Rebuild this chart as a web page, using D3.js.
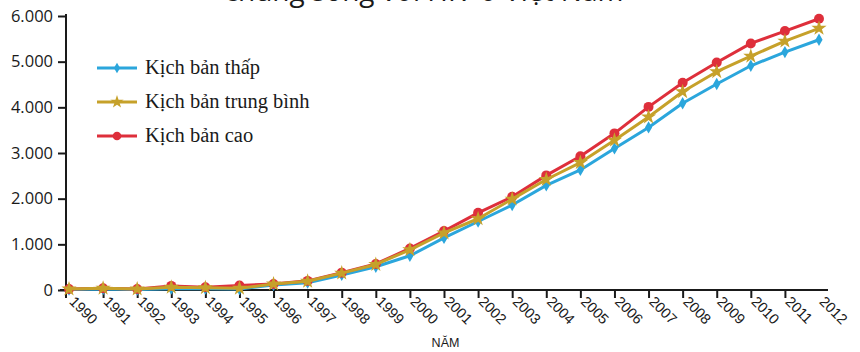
<!DOCTYPE html>
<html>
<head>
<meta charset="utf-8">
<script src="https://cdn.jsdelivr.net/npm/d3@7"></script>
<style>
  html, body { margin: 0; padding: 0; background: #fff; }
  svg { display: block; }
</style>
</head>
<body>
<svg id="chart" width="860" height="352"></svg>
<script>
// Years on the horizontal axis
const years = d3.range(1990, 2013);

// Estimated number of people living with HIV under three scenarios
const lowScenario = [10, 20, 10, 30, 30, 20, 110, 160, 330, 510, 750, 1140, 1500, 1860, 2290, 2630, 3100, 3560, 4090, 4510, 4910, 5210, 5480];
const midScenario = [20, 40, 20, 60, 50, 40, 130, 190, 370, 560, 880, 1250, 1560, 1990, 2420, 2790, 3280, 3790, 4340, 4780, 5120, 5450, 5730];
const highScenario = [20, 40, 20, 90, 60, 100, 130, 200, 380, 570, 910, 1290, 1690, 2040, 2510, 2930, 3430, 4010, 4540, 4980, 5400, 5670, 5940];

const seriesNames = ["Kịch bản thấp", "Kịch bản trung bình", "Kịch bản cao"];
const yTicks = [0, 1000, 2000, 3000, 4000, 5000, 6000];
const titleText = "chung sống với HIV ở Việt Nam";
const xAxisTitle = "NĂM";

const series = [
  { name: seriesNames[0], values: lowScenario, color: "#2ba6dc", symbol: d3.symbolDiamond, size: 44 },
  { name: seriesNames[1], values: midScenario, color: "#c6a12a", symbol: d3.symbolStar, size: 72 },
  { name: seriesNames[2], values: highScenario, color: "#de2f3b", symbol: d3.symbolCircle, size: 78 }
];

const svg = d3.select("#chart");
const ink = "#1a1a1a";

const x = d3.scaleLinear().domain([1990, 2012]).range([69, 819]);
const y = d3.scaleLinear().domain([0, 6000]).range([290, 16]);

const viLocale = d3.formatLocale({ decimal: ",", thousands: ".", grouping: [3], currency: ["", ""] });
const fmt = viLocale.format(",d");

// Title (its upper part runs past the top edge)
svg.append("text")
  .attr("x", 424).attr("y", 1)
  .attr("text-anchor", "middle")
  .attr("font-family", "'Open Sans', sans-serif")
  .attr("font-size", 28)
  .attr("fill", ink)
  .text(titleText);

// Y axis
const axisX = 66;
const yAxis = svg.append("g")
  .attr("transform", `translate(${axisX},0)`)
  .call(d3.axisLeft(y).tickValues(yTicks).tickSize(8).tickPadding(5).tickFormat(fmt));
yAxis.select(".domain").remove();
yAxis.selectAll(".tick line").attr("stroke", ink).attr("stroke-width", 2);
yAxis.selectAll(".tick text")
  .attr("font-family", "'Open Sans', sans-serif")
  .attr("font-size", 16.5)
  .attr("fill", ink);

svg.append("line")
  .attr("x1", axisX).attr("x2", axisX)
  .attr("y1", y(6000) - 2).attr("y2", y(0) + 8)
  .attr("stroke", ink).attr("stroke-width", 2);

// X axis
const xAxis = svg.append("g")
  .attr("transform", `translate(0,${y(0)})`)
  .call(d3.axisBottom(x).tickValues(years.slice(1, -1)).tickSize(8).tickFormat(""));
xAxis.select(".domain").remove();
xAxis.selectAll(".tick line").attr("stroke", ink).attr("stroke-width", 2);

svg.append("line")
  .attr("x1", axisX - 6).attr("x2", x(2012) + 9)
  .attr("y1", y(0)).attr("y2", y(0))
  .attr("stroke", ink).attr("stroke-width", 2);

svg.append("g").selectAll("text")
  .data(years)
  .join("text")
  .attr("transform", d => `translate(${x(d) + 7},${y(0) + 5}) rotate(45)`)
  .attr("dy", "0.72em")
  .attr("font-family", "'Liberation Sans Narrow', 'Liberation Sans', sans-serif")
  .attr("font-size", 14.5)
  .attr("fill", ink)
  .text(d => d);

svg.append("text")
  .attr("x", (axisX + x(2012)) / 2 + 3).attr("y", 347)
  .attr("text-anchor", "middle")
  .attr("font-family", "'Liberation Sans Narrow', 'Liberation Sans', sans-serif")
  .attr("font-size", 12.5)
  .attr("fill", ink)
  .text(xAxisTitle);

// Lines and markers
const line = d3.line().x((d, i) => x(years[i])).y(d => y(d));
const drawOrder = [series[0], series[2], series[1]];

drawOrder.forEach(s => {
  const g = svg.append("g");
  g.append("path")
    .attr("d", line(s.values))
    .attr("fill", "none")
    .attr("stroke", s.color)
    .attr("stroke-width", 3)
    .attr("stroke-linejoin", "round");
  g.selectAll("path.pt")
    .data(s.values)
    .join("path")
    .attr("class", "pt")
    .attr("transform", (d, i) => `translate(${x(years[i])},${y(d)})`)
    .attr("d", d3.symbol().type(s.symbol).size(s.size))
    .attr("fill", s.color);
});

// Legend
const legend = svg.append("g");
series.forEach((s, i) => {
  const ly = 68 + i * 34;
  legend.append("line")
    .attr("x1", 97).attr("x2", 137)
    .attr("y1", ly).attr("y2", ly)
    .attr("stroke", s.color).attr("stroke-width", 3);
  legend.append("path")
    .attr("transform", `translate(117,${ly})`)
    .attr("d", d3.symbol().type(s.symbol).size(s.size * 0.75))
    .attr("fill", s.color);
  legend.append("text")
    .attr("x", 145).attr("y", ly + 6)
    .attr("font-family", "'Liberation Serif', serif")
    .attr("font-size", 20.5)
    .attr("fill", ink)
    .text(s.name);
});
</script>
</body>
</html>
